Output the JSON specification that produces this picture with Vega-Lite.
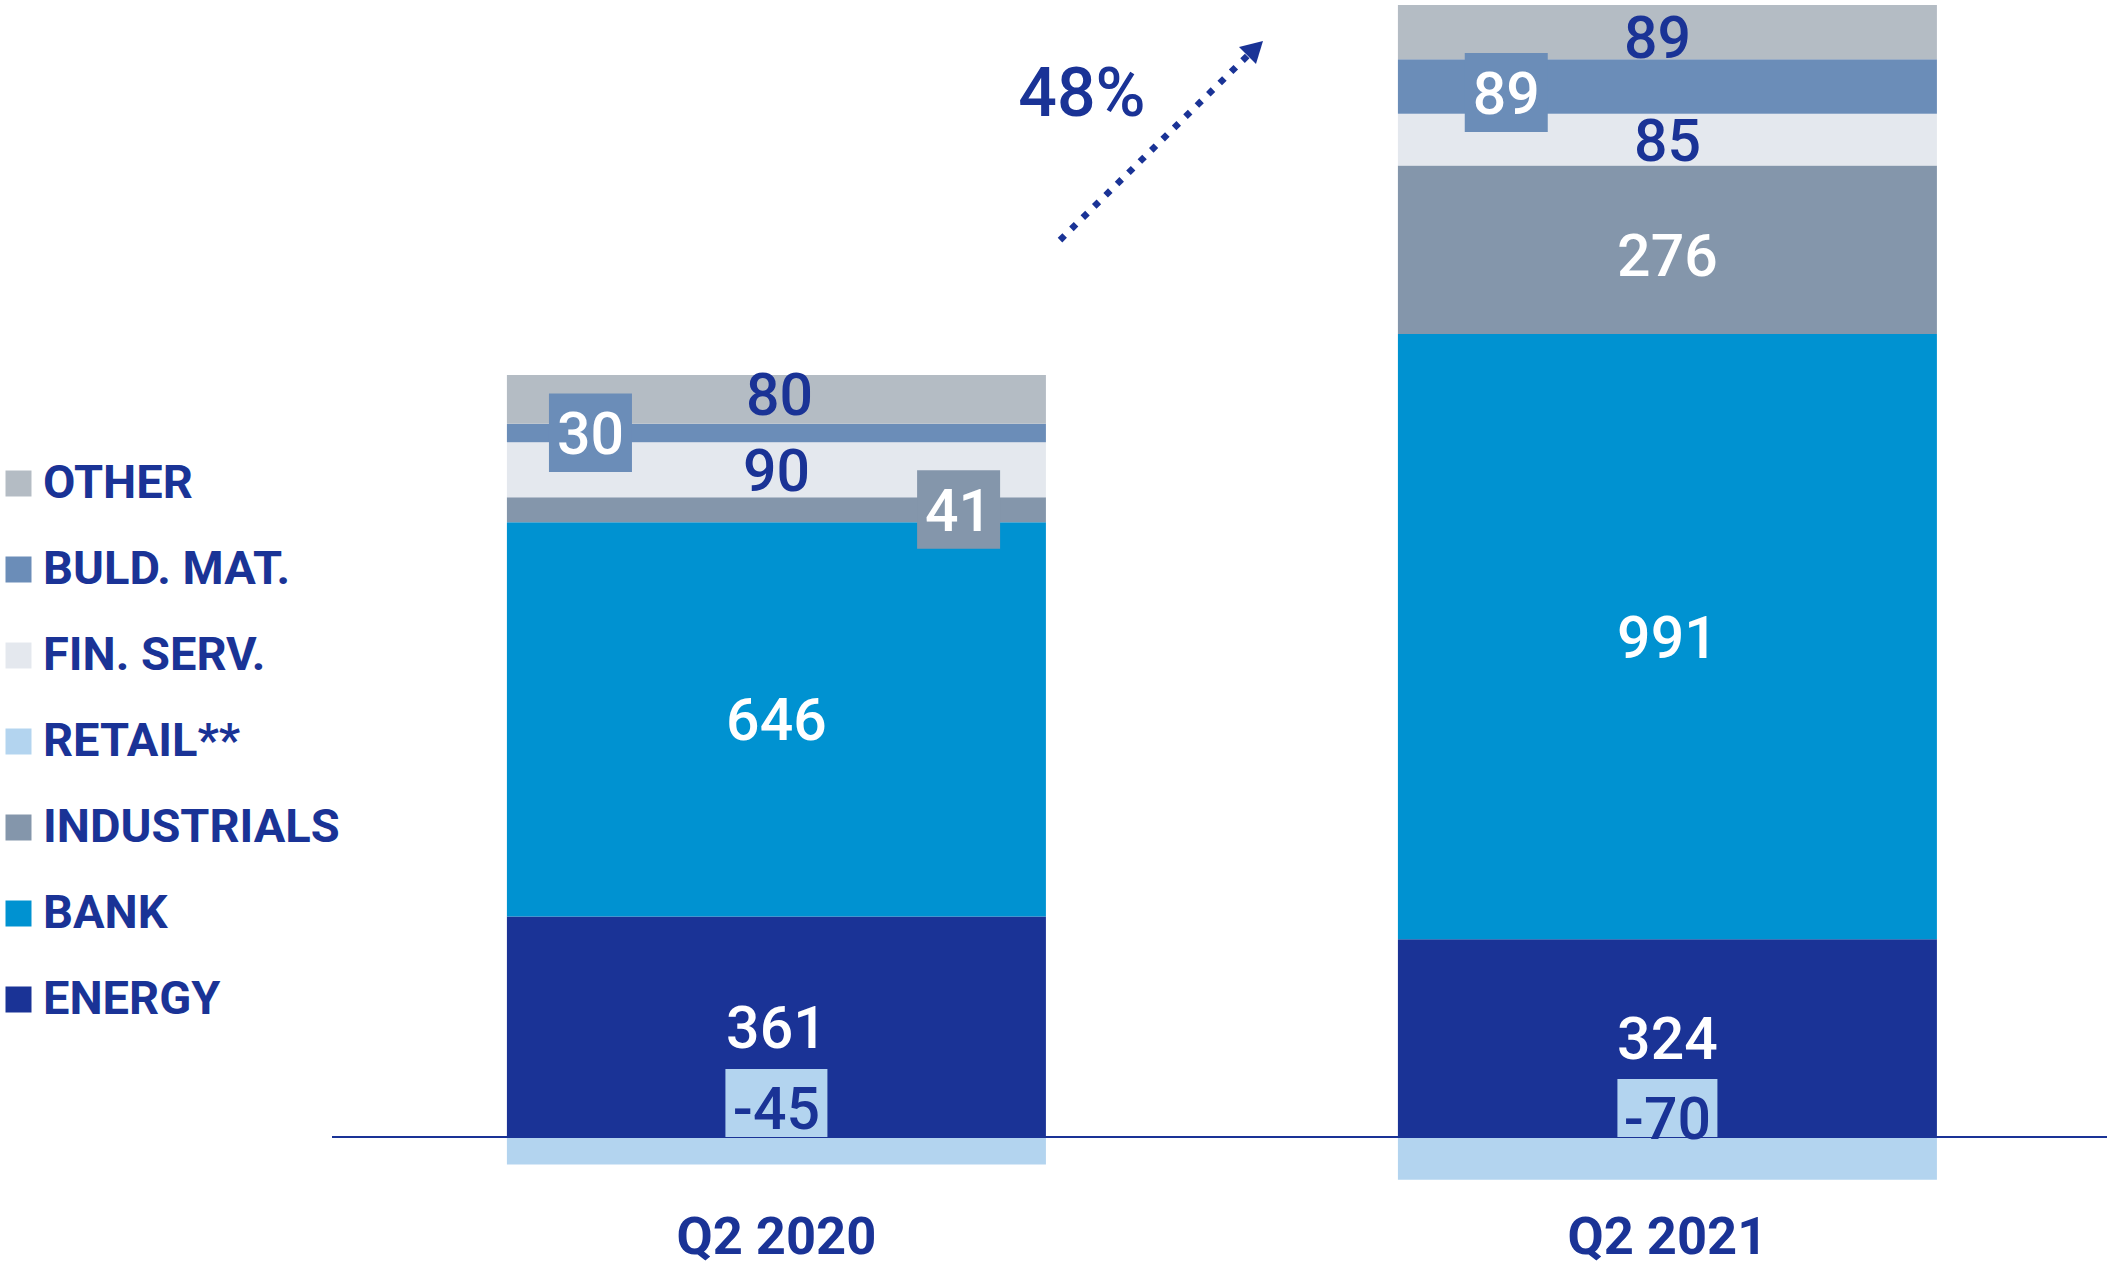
{
  "$schema": "https://vega.github.io/schema/vega-lite/v6.json",
  "width": 1775,
  "height": 1190,
  "autosize": {"type": "none"},
  "padding": {"left": 332, "top": 0, "right": 0, "bottom": 77},
  "background": "white",
  "config": {
    "view": {"stroke": null},
    "axisX": {"labelAngle": 0, "labelFont": "Roboto", "labelFontSize": 52.5, "labelFontWeight": "bold", "labelColor": "#1a3396", "labelLimit": 1000, "domain": false, "ticks": false, "tickSize": 0, "labelPadding": 63, "labelBaseline": "alphabetic", "grid": false}
  },
  "layer": [
    {
      "data": {"values": [
        {"q": "Q2 2020", "seg": "ENERGY", "v": 361},
        {"q": "Q2 2020", "seg": "BANK", "v": 646},
        {"q": "Q2 2020", "seg": "INDUSTRIALS", "v": 41},
        {"q": "Q2 2020", "seg": "RETAIL**", "v": -45},
        {"q": "Q2 2020", "seg": "FIN. SERV.", "v": 90},
        {"q": "Q2 2020", "seg": "BULD. MAT.", "v": 30},
        {"q": "Q2 2020", "seg": "OTHER", "v": 80},
        {"q": "Q2 2021", "seg": "ENERGY", "v": 324},
        {"q": "Q2 2021", "seg": "BANK", "v": 991},
        {"q": "Q2 2021", "seg": "INDUSTRIALS", "v": 276},
        {"q": "Q2 2021", "seg": "RETAIL**", "v": -70},
        {"q": "Q2 2021", "seg": "FIN. SERV.", "v": 85},
        {"q": "Q2 2021", "seg": "BULD. MAT.", "v": 89},
        {"q": "Q2 2021", "seg": "OTHER", "v": 89}
      ]},
      "transform": [
        {"calculate": "indexof(['RETAIL**','ENERGY','BANK','INDUSTRIALS','FIN. SERV.','BULD. MAT.','OTHER'], datum.seg)", "as": "ord"},
        {"stack": "v", "groupby": ["q"], "sort": [{"field": "ord", "order": "ascending"}], "as": ["y0", "y1"], "offset": "zero"},
        {"calculate": "(datum.y0 + datum.y1) / 2", "as": "mid"}
      ],
      "layer": [
        {
          "mark": {"type": "bar"},
          "encoding": {
            "x": {"field": "q", "type": "nominal", "title": null, "scale": {"type": "band", "paddingInner": 0.39506, "paddingOuter": 0.1936, "align": 0.507}},
            "y": {"field": "y0", "type": "quantitative", "scale": {"domain": [-86.8, 1862.2], "nice": false, "zero": false}, "axis": null},
            "y2": {"field": "y1"},
            "color": {
              "field": "seg", "type": "nominal",
              "scale": {"domain": ["OTHER", "BULD. MAT.", "FIN. SERV.", "RETAIL**", "INDUSTRIALS", "BANK", "ENERGY"], "range": ["#b4bcc4", "#6b8db8", "#e4e8ee", "#b3d4ef", "#8496ab", "#0092d1", "#1a3396"]},
              "legend": {"orient": "none", "legendX": -337, "legendY": 460, "title": null, "padding": 0, "symbolType": "square", "symbolSize": 676, "symbolStrokeWidth": 0, "labelFont": "Roboto", "labelFontSize": 47, "labelFontWeight": "bold", "labelColor": "#1a3396", "rowPadding": 38, "labelOffset": 1, "labelLimit": 600}
            }
          }
        },
        {
          "mark": {"type": "rule", "color": "#1a3396", "strokeWidth": 2},
          "encoding": {"y": {"datum": 0, "type": "quantitative", "scale": {"domain": [-86.8, 1862.2], "nice": false, "zero": false}, "axis": null}}
        },
        {
          "transform": [{"filter": "datum.q == 'Q2 2020' && datum.seg == 'BULD. MAT.'"}],
          "mark": {"type": "point", "shape": "M-1,-0.95H1V0.94H-1Z", "size": 6889, "filled": true, "opacity": 1, "strokeWidth": 0, "color": "#6b8db8"},
          "encoding": {
            "x": {"field": "q", "type": "nominal", "title": null, "bandPosition": 0.155},
            "y": {"field": "mid", "type": "quantitative", "scale": {"domain": [-86.8, 1862.2], "nice": false, "zero": false}, "axis": null}
          }
        },
        {
          "transform": [{"filter": "datum.q == 'Q2 2020' && datum.seg == 'INDUSTRIALS'"}],
          "mark": {"type": "point", "shape": "M-1,-0.95H1V0.94H-1Z", "size": 6889, "filled": true, "opacity": 1, "strokeWidth": 0, "color": "#8496ab"},
          "encoding": {
            "x": {"field": "q", "type": "nominal", "title": null, "bandPosition": 0.838},
            "y": {"field": "mid", "type": "quantitative", "scale": {"domain": [-86.8, 1862.2], "nice": false, "zero": false}, "axis": null}
          }
        },
        {
          "transform": [{"filter": "datum.q == 'Q2 2021' && datum.seg == 'BULD. MAT.'"}],
          "mark": {"type": "point", "shape": "M-1,-0.807H1V1.096H-1Z", "size": 6889, "filled": true, "opacity": 1, "strokeWidth": 0, "color": "#6b8db8"},
          "encoding": {
            "x": {"field": "q", "type": "nominal", "title": null, "bandPosition": 0.201},
            "y": {"field": "mid", "type": "quantitative", "scale": {"domain": [-86.8, 1862.2], "nice": false, "zero": false}, "axis": null}
          }
        },
        {
          "transform": [{"filter": "datum.q == 'Q2 2020' && datum.seg == 'RETAIL**'"}],
          "mark": {"type": "point", "shape": "M-1,-1.333H1V0H-1Z", "size": 10404, "filled": true, "opacity": 1, "strokeWidth": 0, "color": "#b3d4ef"},
          "encoding": {
            "x": {"field": "q", "type": "nominal", "title": null},
            "y": {"field": "y0", "type": "quantitative", "scale": {"domain": [-86.8, 1862.2], "nice": false, "zero": false}, "axis": null}
          }
        },
        {
          "transform": [{"filter": "datum.q == 'Q2 2021' && datum.seg == 'RETAIL**'"}],
          "mark": {"type": "point", "shape": "M-1,-1.16H1V0H-1Z", "size": 10000, "filled": true, "opacity": 1, "strokeWidth": 0, "color": "#b3d4ef"},
          "encoding": {
            "x": {"field": "q", "type": "nominal", "title": null},
            "y": {"field": "y0", "type": "quantitative", "scale": {"domain": [-86.8, 1862.2], "nice": false, "zero": false}, "axis": null}
          }
        },
        {
          "transform": [{"filter": "datum.seg == 'BANK' || datum.seg == 'ENERGY' || datum.seg == 'FIN. SERV.'"}],
          "mark": {"type": "text", "font": "Roboto", "fontSize": 59, "fontWeight": 500, "baseline": "middle", "dy": 3},
          "encoding": {
            "x": {"field": "q", "type": "nominal", "title": null},
            "y": {"field": "mid", "type": "quantitative", "scale": {"domain": [-86.8, 1862.2], "nice": false, "zero": false}, "axis": null},
            "text": {"field": "v", "type": "nominal"},
            "color": {"condition": {"test": "datum.seg == 'BANK' || datum.seg == 'ENERGY'", "value": "#ffffff"}, "value": "#1a3396"}
          }
        },
        {
          "transform": [{"filter": "datum.q == 'Q2 2021' && datum.seg == 'INDUSTRIALS'"}],
          "mark": {"type": "text", "font": "Roboto", "fontSize": 59, "fontWeight": 500, "baseline": "middle", "dy": 8, "color": "#ffffff"},
          "encoding": {
            "x": {"field": "q", "type": "nominal", "title": null},
            "y": {"field": "mid", "type": "quantitative", "scale": {"domain": [-86.8, 1862.2], "nice": false, "zero": false}, "axis": null},
            "text": {"field": "v", "type": "nominal"}
          }
        },
        {
          "transform": [{"filter": "datum.q == 'Q2 2021' && datum.seg == 'OTHER'"}],
          "mark": {"type": "text", "font": "Roboto", "fontSize": 59, "fontWeight": 500, "baseline": "middle", "dy": 8, "dx": -10, "color": "#1a3396"},
          "encoding": {
            "x": {"field": "q", "type": "nominal", "title": null},
            "y": {"field": "mid", "type": "quantitative", "scale": {"domain": [-86.8, 1862.2], "nice": false, "zero": false}, "axis": null},
            "text": {"field": "v", "type": "nominal"}
          }
        },
        {
          "transform": [{"filter": "datum.q == 'Q2 2020' && datum.seg == 'OTHER'"}],
          "mark": {"type": "text", "font": "Roboto", "fontSize": 59, "fontWeight": 500, "baseline": "middle", "dy": -2, "dx": 3, "color": "#1a3396"},
          "encoding": {
            "x": {"field": "q", "type": "nominal", "title": null},
            "y": {"field": "mid", "type": "quantitative", "scale": {"domain": [-86.8, 1862.2], "nice": false, "zero": false}, "axis": null},
            "text": {"field": "v", "type": "nominal"}
          }
        },
        {
          "transform": [{"filter": "datum.q == 'Q2 2020' && datum.seg == 'BULD. MAT.'"}],
          "mark": {"type": "text", "font": "Roboto", "fontSize": 59, "fontWeight": 500, "baseline": "middle", "dy": 3, "color": "#ffffff"},
          "encoding": {
            "x": {"field": "q", "type": "nominal", "title": null, "bandPosition": 0.155},
            "y": {"field": "mid", "type": "quantitative", "scale": {"domain": [-86.8, 1862.2], "nice": false, "zero": false}, "axis": null},
            "text": {"field": "v", "type": "nominal"}
          }
        },
        {
          "transform": [{"filter": "datum.q == 'Q2 2020' && datum.seg == 'INDUSTRIALS'"}],
          "mark": {"type": "text", "font": "Roboto", "fontSize": 59, "fontWeight": 500, "baseline": "middle", "dy": 3, "color": "#ffffff"},
          "encoding": {
            "x": {"field": "q", "type": "nominal", "title": null, "bandPosition": 0.838},
            "y": {"field": "mid", "type": "quantitative", "scale": {"domain": [-86.8, 1862.2], "nice": false, "zero": false}, "axis": null},
            "text": {"field": "v", "type": "nominal"}
          }
        },
        {
          "transform": [{"filter": "datum.q == 'Q2 2021' && datum.seg == 'BULD. MAT.'"}],
          "mark": {"type": "text", "font": "Roboto", "fontSize": 59, "fontWeight": 500, "baseline": "middle", "dy": 9, "color": "#ffffff"},
          "encoding": {
            "x": {"field": "q", "type": "nominal", "title": null, "bandPosition": 0.201},
            "y": {"field": "mid", "type": "quantitative", "scale": {"domain": [-86.8, 1862.2], "nice": false, "zero": false}, "axis": null},
            "text": {"field": "v", "type": "nominal"}
          }
        },
        {
          "transform": [{"filter": "datum.q == 'Q2 2020' && datum.seg == 'RETAIL**'"}],
          "mark": {"type": "text", "font": "Roboto", "fontSize": 59, "fontWeight": 500, "baseline": "middle", "dy": -26, "color": "#1a3396"},
          "encoding": {
            "x": {"field": "q", "type": "nominal", "title": null},
            "y": {"field": "y0", "type": "quantitative", "scale": {"domain": [-86.8, 1862.2], "nice": false, "zero": false}, "axis": null},
            "text": {"field": "v", "type": "nominal"}
          }
        },
        {
          "transform": [{"filter": "datum.q == 'Q2 2021' && datum.seg == 'RETAIL**'"}],
          "mark": {"type": "text", "font": "Roboto", "fontSize": 59, "fontWeight": 500, "baseline": "middle", "dy": -16, "color": "#1a3396"},
          "encoding": {
            "x": {"field": "q", "type": "nominal", "title": null},
            "y": {"field": "y0", "type": "quantitative", "scale": {"domain": [-86.8, 1862.2], "nice": false, "zero": false}, "axis": null},
            "text": {"field": "v", "type": "nominal"}
          }
        }
      ]
    },
    {
      "data": {"values": [{"t": 0.318, "y": 1469}, {"t": 0.5287, "y": 1771}]},
      "mark": {"type": "line", "color": "#1a3396", "strokeWidth": 6.5, "strokeDash": [6.5, 9.5], "strokeCap": "butt"},
      "encoding": {
        "x": {"field": "t", "type": "quantitative", "scale": {"domain": [-0.5, 1.4944], "nice": false, "zero": false}, "axis": null},
        "y": {"field": "y", "type": "quantitative", "scale": {"domain": [-86.8, 1862.2], "nice": false, "zero": false}, "axis": null}
      }
    },
    {
      "data": {"values": [{"t": 0.5337, "y": 1778.7}]},
      "mark": {"type": "point", "shape": "M0.917,-0.833L-1.083,-0.333L0.333,1.083Z", "size": 576, "filled": true, "opacity": 1, "strokeWidth": 0, "color": "#1a3396"},
      "encoding": {
        "x": {"field": "t", "type": "quantitative", "scale": {"domain": [-0.5, 1.4944], "nice": false, "zero": false}, "axis": null},
        "y": {"field": "y", "type": "quantitative", "scale": {"domain": [-86.8, 1862.2], "nice": false, "zero": false}, "axis": null}
      }
    },
    {
      "data": {"values": [{"t": 0.3427, "y": 1711.5, "label": "48%"}]},
      "mark": {"type": "text", "font": "Roboto", "fontSize": 68, "fontWeight": 500, "baseline": "middle", "dy": 4, "color": "#1a3396"},
      "encoding": {
        "x": {"field": "t", "type": "quantitative", "scale": {"domain": [-0.5, 1.4944], "nice": false, "zero": false}, "axis": null},
        "y": {"field": "y", "type": "quantitative", "scale": {"domain": [-86.8, 1862.2], "nice": false, "zero": false}, "axis": null},
        "text": {"field": "label", "type": "nominal"}
      }
    }
  ],
  "resolve": {"scale": {"x": "independent"}}
}
